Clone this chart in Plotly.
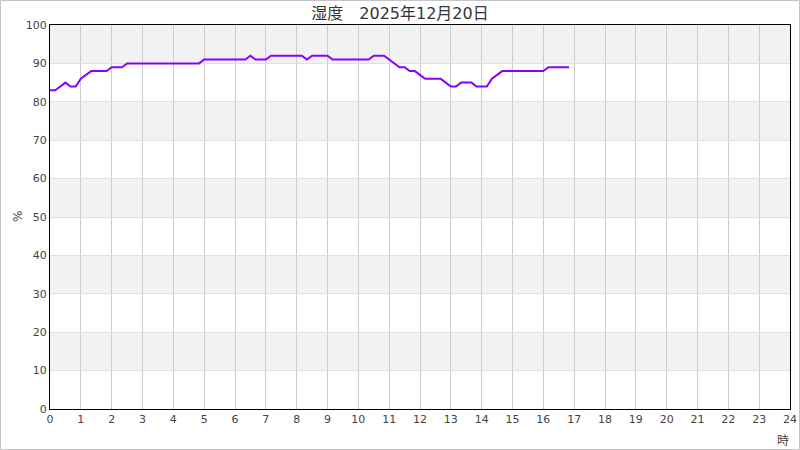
import plotly.graph_objects as go

# 10-minute humidity readings from 0:00 to 16:50
humidity = [
    83, 83, 84, 85, 84, 84,   # 0h
    86, 87, 88, 88, 88, 88,   # 1h
    89, 89, 89, 90, 90, 90,   # 2h
    90, 90, 90, 90, 90, 90,   # 3h
    90, 90, 90, 90, 90, 90,   # 4h
    91, 91, 91, 91, 91, 91,   # 5h
    91, 91, 91, 92, 91, 91,   # 6h
    91, 92, 92, 92, 92, 92,   # 7h
    92, 92, 91, 92, 92, 92,   # 8h
    92, 91, 91, 91, 91, 91,   # 9h
    91, 91, 91, 92, 92, 92,   # 10h
    91, 90, 89, 89, 88, 88,   # 11h
    87, 86, 86, 86, 86, 85,   # 12h
    84, 84, 85, 85, 85, 84,   # 13h
    84, 84, 86, 87, 88, 88,   # 14h
    88, 88, 88, 88, 88, 88,   # 15h
    88, 89, 89, 89, 89, 89,   # 16h
]
hours = [i / 6 for i in range(len(humidity))]
x_ticks = list(range(0, 25))
y_ticks = list(range(0, 101, 10))
title_text = "湿度　2025年12月20日"

W, H = 800, 450
L, R, T, B = 50, 10, 25, 41
pw, ph = W - L - R, H - T - B

fig = go.Figure()
fig.add_trace(go.Scatter(
    x=hours, y=humidity, mode="lines",
    line=dict(color="#8800ff", width=2),
    hoverinfo="x+y", showlegend=False,
))

shapes = []
for lo in range(10, 100, 20):
    shapes.append(dict(type="rect", xref="paper", yref="y", x0=0, x1=1, y0=lo, y1=lo + 10,
                       fillcolor="#f2f2f2", line=dict(width=0), layer="below"))
# outer border
shapes.append(dict(type="rect", xref="paper", yref="paper",
                   x0=(-L + 0.5) / pw, x1=1 + (R - 0.5) / pw,
                   y0=(-B + 0.5) / ph, y1=1 + (T - 0.5) / ph,
                   line=dict(color="#c4c4c4", width=1), fillcolor="rgba(0,0,0,0)", layer="above"))

font = "DejaVu Sans, Noto Sans CJK JP, sans-serif"
fig.update_layout(
    width=W, height=H,
    margin=dict(l=L, r=R, t=T, b=B, autoexpand=False),
    paper_bgcolor="white", plot_bgcolor="white",
    font=dict(family=font, size=11, color="#444"),
    title=dict(text=title_text, x=0.5, xanchor="center", y=1 - 13 / H, yanchor="middle",
               font=dict(family=font, size=16, color="#333")),
    shapes=shapes,
    xaxis=dict(range=[0, 24], tickvals=x_ticks, ticktext=[str(v) for v in x_ticks],
               showgrid=True, gridcolor="#cccccc", gridwidth=1,
               showline=True, linecolor="black", linewidth=1.2, mirror=True,
               zeroline=False, ticks="", fixedrange=True, automargin=False),
    yaxis=dict(range=[0, 100], tickvals=y_ticks,
               showgrid=True, gridcolor="#e0e0e0", gridwidth=1,
               showline=True, linecolor="black", linewidth=1.2, mirror=True,
               zeroline=False, ticks="", fixedrange=True, automargin=False),
    annotations=[
        dict(text="%", xref="paper", yref="paper", x=-32 / pw, y=0.5, showarrow=False,
             textangle=-90, font=dict(family=font, size=12, color="#444"),
             xanchor="center", yanchor="middle"),
        dict(text="時", xref="paper", yref="paper", x=1 - 7 / pw, y=-32 / ph, showarrow=False,
             font=dict(family=font, size=12, color="#444"), xanchor="center", yanchor="middle"),
    ],
)

fig.write_html("out.html", config={"displayModeBar": False},
               post_script="document.body.style.margin='0';document.body.style.overflow='hidden';")
